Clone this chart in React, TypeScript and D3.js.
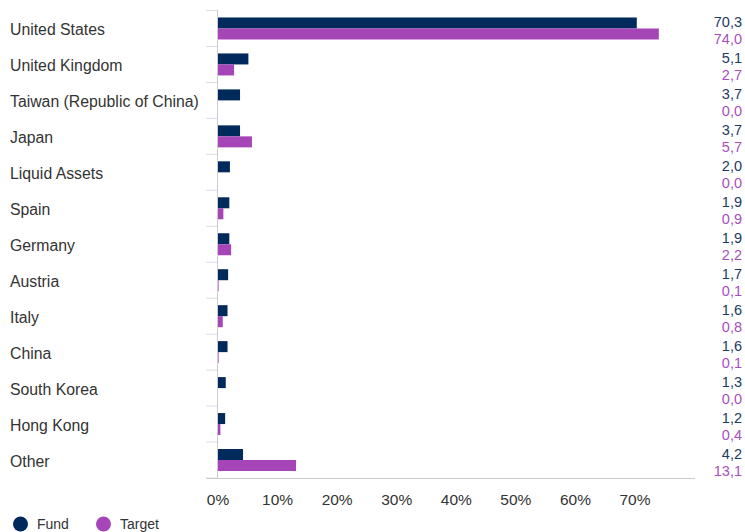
import React from "react";
import * as d3 from "d3";

const categories = ["United States","United Kingdom","Taiwan (Republic of China)","Japan","Liquid Assets","Spain","Germany","Austria","Italy","China","South Korea","Hong Kong","Other"];
const fundValues = [70.3,5.1,3.7,3.7,2.0,1.9,1.9,1.7,1.6,1.6,1.3,1.2,4.2];
const targetValues = [74.0,2.7,0.0,5.7,0.0,0.9,2.2,0.1,0.8,0.1,0.0,0.4,13.1];
const xTicks = [0,10,20,30,40,50,60,70];
const seriesNames = ["Fund","Target"];

const FUND = "#002a5c";
const TARGET = "#a545b8";
const FONT = "Arial, 'Liberation Sans', sans-serif";

export default function App() {
  const W = 745, H = 532;
  const x = d3.scaleLinear().domain([0, 70]).range([218, 635]);
  const y = d3.scaleBand().domain(categories).range([10.5, 478]);
  const bh = 11;
  const fmt = (v: number) => v.toFixed(1).replace(".", ",");
  return (
    <svg width={W} height={H} style={{ position: "absolute", left: 0, top: 0 }}>
      <rect width={W} height={H} fill="#fff" />
      {categories.map((c, i) => (
        <line key={"t" + i} x1={206} x2={217} y1={(y(c) as number)} y2={(y(c) as number)} stroke="#d5dcea" strokeWidth={1} />
      ))}
      <line x1={206} x2={217} y1={478} y2={478} stroke="#d5dcea" />
      {categories.map((c, i) => {
        const cy = (y(c) as number) + y.bandwidth() / 2;
        return (
          <g key={"b" + i}>
            <rect x={x(0)} y={cy - bh} width={Math.max(0, x(fundValues[i]) - x(0))} height={bh} fill={FUND} />
            <rect x={x(0)} y={cy} width={Math.max(0, x(targetValues[i]) - x(0))} height={bh} fill={TARGET} />
            <text x={10} y={cy + 7} fontSize={15.8} fill="#333" fontFamily={FONT}>{c}</text>
            <text x={742} y={cy - 1.5} fontSize={14.5} fill="#1c3a66" textAnchor="end" fontFamily={FONT}>{fmt(fundValues[i])}</text>
            <text x={742} y={cy + 15.5} fontSize={14.5} fill="#a84fc0" textAnchor="end" fontFamily={FONT}>{fmt(targetValues[i])}</text>
          </g>
        );
      })}
      <line x1={217.5} x2={217.5} y1={10} y2={478} stroke="#ccc" strokeWidth={1} />
      <line x1={206} x2={695} y1={478.5} y2={478.5} stroke="#ccc" strokeWidth={1} />
      {xTicks.map((t) => (
        <text key={t} x={x(t)} y={504.5} fontSize={15.5} fill="#333" textAnchor="middle" fontFamily={FONT}>{t + "%"}</text>
      ))}
      <circle cx={20.5} cy={524} r={7.5} fill={FUND} />
      <text x={37} y={529} fontSize={14} fill="#333" fontFamily={FONT}>{seriesNames[0]}</text>
      <circle cx={103.5} cy={524} r={7.5} fill={TARGET} />
      <text x={120} y={529} fontSize={14} fill="#333" fontFamily={FONT}>{seriesNames[1]}</text>
    </svg>
  );
}
